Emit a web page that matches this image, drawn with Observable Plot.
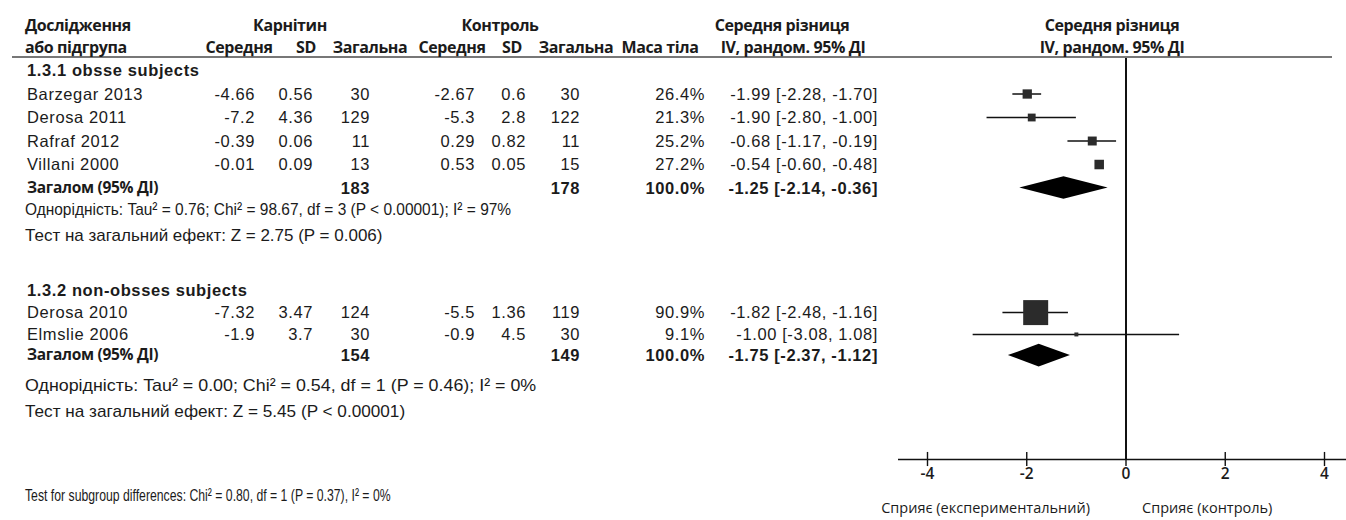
<!DOCTYPE html>
<html><head><meta charset="utf-8">
<script src="https://cdn.jsdelivr.net/npm/d3@7"></script>
<script src="https://cdn.jsdelivr.net/npm/@observablehq/plot@0.6"></script>
<style>
body{margin:0;background:#fff;}
#wrap{position:relative;width:1346px;height:520px;overflow:hidden;background:#fff;}
#wrap svg{position:absolute;left:0;top:0;}
.t{position:absolute;white-space:nowrap;transform:translateY(-50%);color:#1b1b1b;line-height:1;}
.r{transform:translate(-100%,-50%);}
.c{transform:translate(-50%,-50%);}
.hdr{font-family:"Open Sans",sans-serif;font-weight:700;font-size:16px;letter-spacing:-0.4px;}
.num{font-family:"Liberation Sans",Arial,sans-serif;font-size:16.5px;letter-spacing:0.6px;}
.b{font-weight:700;}
.tot{font-family:"Open Sans",sans-serif;font-weight:700;font-size:15.5px;letter-spacing:-0.3px;}
.nar{font-family:"Liberation Sans",Arial,sans-serif;font-size:17px;transform-origin:0 50%;}
.rule{position:absolute;height:0;border-top:2px solid #777;}
</style></head>
<body><div id="wrap"></div>
<script>
// ---------- data ----------
const studies   = ["Barzegar 2013","Derosa 2011","Rafraf 2012","Villani 2000","Derosa 2010","Elmslie 2006"];
const studyGroup= [0,0,0,0,1,1];
const carnMean  = [-4.66,-7.2,-0.39,-0.01,-7.32,-1.9];
const carnSD    = [0.56,4.36,0.06,0.09,3.47,3.7];
const carnN     = [30,129,11,13,124,30];
const ctrlMean  = [-2.67,-5.3,0.29,0.53,-5.5,-0.9];
const ctrlSD    = [0.6,2.8,0.82,0.05,1.36,4.5];
const ctrlN     = [30,122,11,15,119,30];
const weight    = [26.4,21.3,25.2,27.2,90.9,9.1];
const md        = [-1.99,-1.90,-0.68,-0.54,-1.82,-1.00];
const mdLo      = [-2.28,-2.80,-1.17,-0.60,-2.48,-3.08];
const mdHi      = [-1.70,-1.00,-0.19,-0.48,-1.16,1.08];

const groupLabels = ["1.3.1 obsse subjects","1.3.2 non-obsses subjects"];
const groupCarnN  = [183,154];
const groupCtrlN  = [178,149];
const groupMD     = [-1.25,-1.75];
const groupLo     = [-2.14,-2.37];
const groupHi     = [-0.36,-1.12];
const heterogeneity = [
  "Однорідність: Tau² = 0.76; Chi² = 98.67, df = 3 (P < 0.00001); I² = 97%",
  "Однорідність: Tau² = 0.00; Chi² = 0.54, df = 1 (P = 0.46); I² = 0%"
];
const overallTest = [
  "Тест на загальний ефект: Z = 2.75 (P = 0.006)",
  "Тест на загальний ефект: Z = 5.45 (P < 0.00001)"
];
const subgroupTest = "Test for subgroup differences: Chi² = 0.80, df = 1 (P = 0.37), I² = 0%";
const totalLabel = "Загалом (95% ДІ)";
const xTicks = [-4,-2,0,2,4];
const favours = ["Сприяє (експериментальний)","Сприяє (контроль)"];

// ---------- layout (row numbers in text lines, horizontal squeeze of footnote lines) ----------
const rowStudy = [1,2,3,4,10.3,11.23];
const rowGroup = [0,9.36];
const rowTotal = [5,12.13];
const rowHet   = [5.93,13.4];
const rowTest  = [7.03,14.5];
const rowSubTest = 18.09;
const rowHead1 = -1.9, rowHead2 = -0.98, rowRule = -0.55, rowAxis = 16.55;
const rowTickLab = 17.15, rowFav = 18.64;
const diamondHalf = 0.48;
const squeezeHet = [0.91, 1.05], squeezeTest = [1.0, 1.01], squeezeSub = 0.72;

const studyData = studies.map((s,i)=>({s, md:md[i], lo:mdLo[i], hi:mdHi[i], w:weight[i], row:rowStudy[i]}));
const diamonds = groupMD.flatMap((m,g)=>[
  {g, x:groupLo[g], y1:rowTotal[g], y2:rowTotal[g]},
  {g, x:m, y1:rowTotal[g]-diamondHalf, y2:rowTotal[g]+diamondHalf},
  {g, x:groupHi[g], y1:rowTotal[g], y2:rowTotal[g]}
]);

const plot = Plot.plot({
  width:1346, height:520,
  marginLeft:898, marginRight:0, marginTop:0, marginBottom:61,
  style:{fontFamily:"Open Sans, sans-serif", fontSize:"14px", color:"#1b1b1b", background:"transparent"},
  x:{domain:[-4,4], range:[927,1324], axis:null},
  y:{domain:[0,rowAxis], range:[70,459], axis:null},
  r:{type:"pow", exponent:0.8, domain:[0,90.9], range:[0,14.1]},
  marks:[
    Plot.ruleY([rowAxis],{stroke:"#111", strokeWidth:1.6}),
    Plot.ruleX(xTicks,{x:d=>d, y1:rowAxis-0.3, y2:rowAxis+0.3, stroke:"#111", strokeWidth:1.4}),
    Plot.text(xTicks,{x:d=>d, y:rowTickLab, text:d=>String(d), fill:"#1b1b1b", fontSize:15.5, fontWeight:600}),
    Plot.ruleX([0],{y1:rowRule, y2:rowAxis, stroke:"#111", strokeWidth:2}),
    Plot.ruleY(studyData,{y:"row", x1:"lo", x2:"hi", stroke:"#111", strokeWidth:1.5}),
    Plot.dot(studyData,{x:"md", y:"row", r:"w", symbol:"square", fill:"#2b2b2b", stroke:null}),
    Plot.areaY(diamonds,{x:"x", y1:"y1", y2:"y2", z:"g", fill:"#000", curve:"linear"}),
    Plot.text([favours[0]],{x:0, y:rowFav, text:d=>d, textAnchor:"end", dx:-36, fontSize:14.5, fill:"#1b1b1b"}),
    Plot.text([favours[1]],{x:0, y:rowFav, text:d=>d, textAnchor:"start", dx:16, fontSize:14.5, fill:"#1b1b1b"})
  ]
});

const wrap = document.getElementById("wrap");
wrap.appendChild(plot);
const Y = v => plot.scale("y").apply(v);

function put(text, cls, x, row, align, squeeze){
  const d = document.createElement("div");
  d.className = "t " + cls + (align==="r"?" r":align==="c"?" c":"");
  d.textContent = text;
  d.style.left = x + "px";
  d.style.top = Y(row) + "px";
  if (squeeze) d.style.transform = `translateY(-50%) scaleX(${squeeze})`;
  wrap.appendChild(d);
  return d;
}

// header rule
const rl = document.createElement("div");
rl.className = "rule";
rl.style.left = "12px"; rl.style.width = "1320px"; rl.style.top = (Y(rowRule)-1) + "px";
wrap.appendChild(rl);

// headers
put("Дослідження","hdr",25,rowHead1);
put("або підгрупа","hdr",25,rowHead2);
put("Карнітин","hdr",290,rowHead1,"c");
put("Контроль","hdr",500,rowHead1,"c");
put("Середня","hdr",239,rowHead2,"c");
put("SD","hdr",306,rowHead2,"c");
put("Загальна","hdr",370,rowHead2,"c");
put("Середня","hdr",452,rowHead2,"c");
put("SD","hdr",512,rowHead2,"c");
put("Загальна","hdr",576,rowHead2,"c");
put("Маса тіла","hdr",660,rowHead2,"c");
put("Середня різниця","hdr",782,rowHead1,"c");
put("IV, рандом. 95% ДІ","hdr",793,rowHead2,"c");
put("Середня різниця","hdr",1112,rowHead1,"c");
put("IV, рандом. 95% ДІ","hdr",1112,rowHead2,"c");

const f2 = v => v.toFixed(2);
const ci = (m,l,h) => `${f2(m)} [${f2(l)}, ${f2(h)}]`;

groupLabels.forEach((g,gi)=>{
  put(g,"num b",27,rowGroup[gi]);
  put(totalLabel,"tot",27,rowTotal[gi]);
  put(String(groupCarnN[gi]),"num b",370,rowTotal[gi],"r");
  put(String(groupCtrlN[gi]),"num b",580,rowTotal[gi],"r");
  put("100.0%","num b",705,rowTotal[gi],"r");
  put(ci(groupMD[gi],groupLo[gi],groupHi[gi]),"num b",878,rowTotal[gi],"r");
  put(heterogeneity[gi],"nar",25,rowHet[gi],null,squeezeHet[gi]);
  put(overallTest[gi],"nar",25,rowTest[gi],null,squeezeTest[gi]);
});
studies.forEach((s,i)=>{
  const r = rowStudy[i];
  put(s,"num",27,r);
  put(String(carnMean[i]),"num",255,r,"r");
  put(String(carnSD[i]),"num",313,r,"r");
  put(String(carnN[i]),"num",370,r,"r");
  put(String(ctrlMean[i]),"num",475,r,"r");
  put(String(ctrlSD[i]),"num",526,r,"r");
  put(String(ctrlN[i]),"num",580,r,"r");
  put(weight[i].toFixed(1)+"%","num",705,r,"r");
  put(ci(md[i],mdLo[i],mdHi[i]),"num",878,r,"r");
});
put(subgroupTest,"nar",25,rowSubTest,null,squeezeSub);
</script>
</body></html>
